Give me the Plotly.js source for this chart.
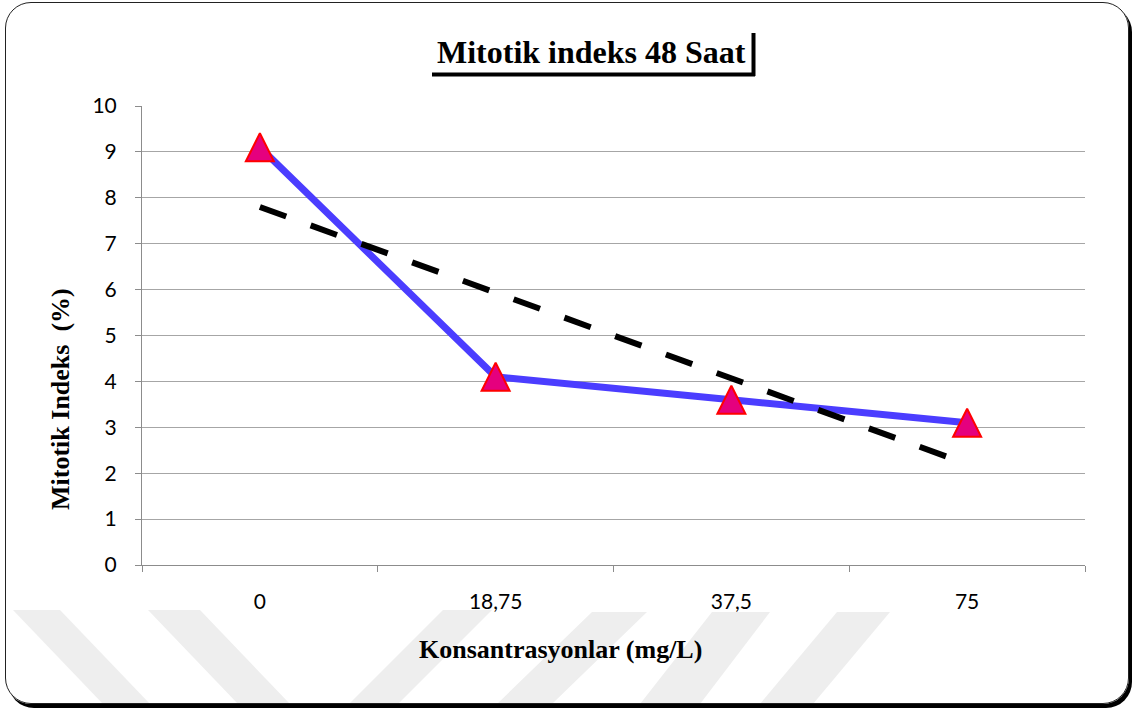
<!DOCTYPE html>
<html>
<head>
<meta charset="utf-8">
<script src="https://cdn.plot.ly/plotly-3.0.1.min.js"></script>
<style>
  html, body { margin: 0; padding: 0; background: #fff; }
  #wrap { position: relative; width: 1136px; height: 713px; overflow: hidden; }
  #chart { position: absolute; left: 0; top: 0; width: 1136px; height: 713px; }
  #frame {
    position: absolute; left: 5px; top: 2px; width: 1122px; height: 700px;
    border: 1.5px solid #222; border-radius: 26px;
    box-shadow: 3px 4px 0 0 #000;
    pointer-events: none; box-sizing: content-box;
  }
</style>
</head>
<body>
<div id="wrap">
  <div id="chart"></div>
  <div id="frame"></div>
</div>
<script>
// ---- data ----
const categories = ["0", "18,75", "37,5", "75"];
const mitotikIndeks = [9.1, 4.1, 3.6, 3.1];
const trendCategories = ["0", "75"];
const trendValues = [7.8, 2.2];
const yTickValues = [0, 1, 2, 3, 4, 5, 6, 7, 8, 9, 10];
const chartTitle = "Mitotik indeks 48 Saat";
const xTitle = "Konsantrasyonlar (mg/L)";
const yTitle = "Mitotik Indeks  (%)";

// ---- layout helpers (pixel -> paper) ----
const L = 142, R = 1085, T = 106, B = 565;
const H = B - T;
const px = x => (x - L) / (R - L);
const py = y => (B - y) / H;

// marker: tall triangle (arrow-up symbol, tip at its anchor); a hidden twin
// y axis shifted up by half the marker height centres the triangle on the value
const markerSize = 28;
const shift = (markerSize / 2) / H;
const yMax = 10;

const stripesPx = [
  [[13,610],[60,610],[150,704],[103,704]],
  [[148,610],[200,610],[290,704],[238,704]],
  [[443,610],[492,610],[398,704],[349,704]],
  [[592,612],[647,612],[552,704],[497,704]],
  [[712,612],[770,612],[700,704],[640,704]],
  [[837,612],[890,612],[813,704],[760,704]]
];
const stripeShapes = stripesPx.map(pts => ({
  type: "path", xref: "paper", yref: "paper", layer: "below",
  path: "M" + pts.map(p => px(p[0]).toFixed(5) + "," + py(p[1]).toFixed(5)).join(" L") + " Z",
  fillcolor: "#eeeeee", line: { width: 0 }
}));

const traces = [
  {
    type: "scatter", mode: "lines", x: categories, y: mitotikIndeks,
    line: { color: "#4b3dff", width: 7 }, hoverinfo: "skip", showlegend: false
  },
  {
    type: "scatter", mode: "lines", x: trendCategories, y: trendValues,
    line: { color: "#000000", width: 6, dash: "28px,26px" }, hoverinfo: "skip", showlegend: false
  },
  {
    type: "scatter", mode: "markers", x: categories, y: mitotikIndeks,
    xaxis: "x", yaxis: "y2", cliponaxis: false,
    marker: { symbol: "arrow-up", size: markerSize,
              color: "#e5007e", line: { color: "#ff0000", width: 2 } },
    showlegend: false
  }
];

const serifBold = { family: "'Liberation Serif', 'Times New Roman', serif", color: "#000" };

const layout = {
  width: 1136, height: 713,
  margin: { l: L, r: 1136 - R, t: T, b: 713 - B, pad: 0 },
  paper_bgcolor: "#ffffff", plot_bgcolor: "rgba(0,0,0,0)",
  showlegend: false,
  xaxis: {
    type: "category", categoryorder: "array", categoryarray: categories,
    range: [-0.5, 3.5], tickson: "boundaries",
    showgrid: false, zeroline: false,
    showline: true, linecolor: "#8c8c8c", linewidth: 1,
    ticks: "outside", ticklen: 6, tickcolor: "#8c8c8c", tickwidth: 1,
    ticklabelstandoff: 18,
    tickfont: { family: "Lato, 'Open Sans', sans-serif", size: 21, color: "#000" },
    fixedrange: true
  },
  yaxis: {
    range: [0, yMax], tickvals: yTickValues, ticktext: yTickValues.map(String),
    showgrid: true, gridcolor: "#a6a6a6", gridwidth: 1,
    zeroline: false,
    showline: true, linecolor: "#8c8c8c", linewidth: 1,
    ticks: "outside", ticklen: 6, tickcolor: "#8c8c8c", tickwidth: 1,
    ticklabelstandoff: 14,
    tickfont: { family: "Lato, 'Open Sans', sans-serif", size: 21, color: "#000" },
    fixedrange: true
  },
  yaxis2: {
    anchor: "x", domain: [shift, 1], range: [0, yMax * (1 - shift)],
    visible: false, showgrid: false, zeroline: false, fixedrange: true
  },
  annotations: [
    { text: "<b>" + chartTitle + "</b>", xref: "paper", yref: "paper",
      x: px(591), y: py(52), xanchor: "center", yanchor: "middle", showarrow: false,
      font: Object.assign({ size: 32 }, serifBold) },
    { text: "<b>" + yTitle + "</b>", xref: "paper", yref: "paper",
      x: px(60), y: py(399), xanchor: "center", yanchor: "middle", showarrow: false,
      textangle: -90, font: Object.assign({ size: 26 }, serifBold) },
    { text: "<b>" + xTitle + "</b>", xref: "paper", yref: "paper",
      x: px(560), y: py(649), xanchor: "center", yanchor: "middle", showarrow: false,
      font: Object.assign({ size: 26 }, serifBold) }
  ],
  shapes: stripeShapes.concat([
    { type: "line", xref: "paper", yref: "paper",
      x0: px(432), x1: px(755), y0: py(74.5), y1: py(74.5),
      line: { color: "#000", width: 4 } },
    { type: "line", xref: "paper", yref: "paper",
      x0: px(753.5), x1: px(753.5), y0: py(33), y1: py(76),
      line: { color: "#000", width: 4 } }
  ])
};

Plotly.newPlot("chart", traces, layout, { displayModeBar: false, staticPlot: true });
</script>
</body>
</html>
